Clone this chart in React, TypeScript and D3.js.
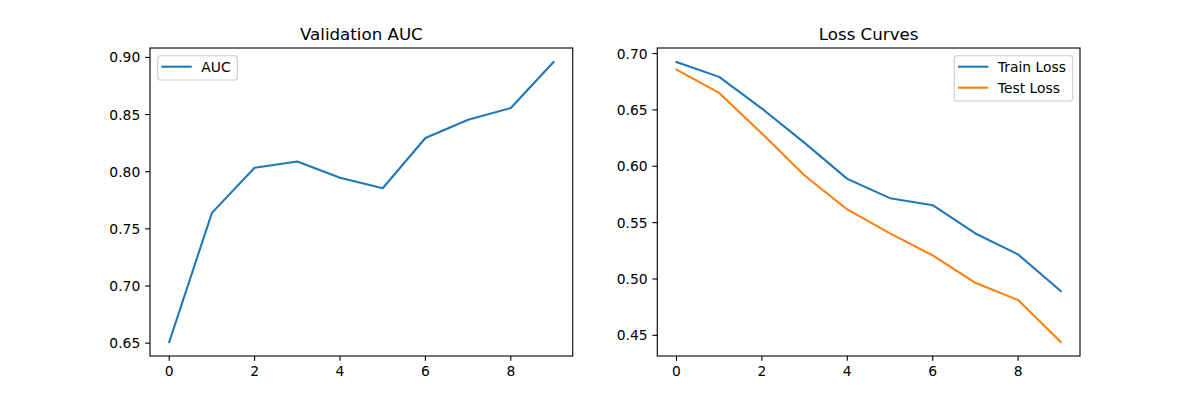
import React from "react";
import * as d3 from "d3";

const epochs = [0, 1, 2, 3, 4, 5, 6, 7, 8, 9];
const aucValues = [0.651, 0.764, 0.8035, 0.809, 0.7948, 0.7855, 0.8295, 0.8455, 0.8557, 0.896];
const trainLoss = [0.6925, 0.6793, 0.6512, 0.6207, 0.5888, 0.5717, 0.5655, 0.5404, 0.5218, 0.4893];
const testLoss = [0.6858, 0.6651, 0.6291, 0.5918, 0.5617, 0.5404, 0.5209, 0.4966, 0.4813, 0.4441];
const xTicks = [0, 2, 4, 6, 8];
const aucTicks = [0.65, 0.7, 0.75, 0.8, 0.85, 0.9];
const lossTicks = [0.45, 0.5, 0.55, 0.6, 0.65, 0.7];

const W = 1200;
const H = 400;
const FONT = "DejaVu Sans, sans-serif";
const TICK_FS = 13.89;
const TITLE_FS = 16.67;
const TICK_LEN = 4.86;
const TICK_PAD = 4.86;

type Series = { name: string; values: number[]; color: string };

function pad(min: number, max: number): [number, number] {
  const m = (max - min) * 0.05;
  return [min - m, max + m];
}

let ctx: CanvasRenderingContext2D | null = null;
function textWidth(s: string): number {
  if (!ctx) {
    const c = document.createElement("canvas");
    ctx = c.getContext("2d");
  }
  if (!ctx) return s.length * 7;
  ctx.font = `${TICK_FS}px "DejaVu Sans"`;
  return ctx.measureText(s).width;
}

function Panel({
  left,
  right,
  title,
  series,
  yTicks,
  legendPos,
}: {
  left: number;
  right: number;
  title: string;
  series: Series[];
  yTicks: number[];
  legendPos: "ul" | "ur";
}) {
  const top = 48;
  const bottom = 356;
  const all = series.flatMap((s) => s.values);
  const x = d3.scaleLinear().domain(pad(d3.min(epochs)!, d3.max(epochs)!)).range([left, right]);
  const y = d3.scaleLinear().domain(pad(d3.min(all)!, d3.max(all)!)).range([bottom, top]);
  const line = d3
    .line<number>()
    .x((_, i) => x(epochs[i]))
    .y((d) => y(d));

  const maxText = d3.max(series, (s) => textWidth(s.name))!;
  const legW = 43.6 + maxText + 6.7;
  const legH = 24.3 + 21 * (series.length - 1);
  const legX = legendPos === "ul" ? left + 7.7 : right - 7.3 - legW;
  const legY = top + 7.7;

  return (
    <g>
      <text
        x={(left + right) / 2}
        y={top - 8.3}
        textAnchor="middle"
        fontFamily={FONT}
        fontSize={TITLE_FS}
        fill="#000"
      >
        {title}
      </text>
      {series.map((s) => (
        <path
          key={s.name}
          d={line(s.values)!}
          fill="none"
          stroke={s.color}
          strokeWidth={2.08}
          strokeLinejoin="round"
          strokeLinecap="square"
        />
      ))}
      <rect
        x={left}
        y={top}
        width={right - left}
        height={bottom - top}
        fill="none"
        stroke="#000"
        strokeWidth={1.11}
      />
      {xTicks.map((t) => (
        <g key={"x" + t}>
          <line x1={x(t)} x2={x(t)} y1={bottom} y2={bottom + TICK_LEN} stroke="#000" strokeWidth={1.11} />
          <text
            x={x(t)}
            y={bottom + TICK_LEN + TICK_PAD + 10.7}
            textAnchor="middle"
            fontFamily={FONT}
            fontSize={TICK_FS}
            fill="#000"
          >
            {t}
          </text>
        </g>
      ))}
      {yTicks.map((t) => (
        <g key={"y" + t}>
          <line x1={left - TICK_LEN} x2={left} y1={y(t)} y2={y(t)} stroke="#000" strokeWidth={1.11} />
          <text
            x={left - TICK_LEN - TICK_PAD}
            y={y(t) + 5}
            textAnchor="end"
            fontFamily={FONT}
            fontSize={TICK_FS}
            fill="#000"
          >
            {t.toFixed(2)}
          </text>
        </g>
      ))}
      <rect
        x={legX}
        y={legY}
        width={legW}
        height={legH}
        rx={2.8}
        fill="#fff"
        fillOpacity={0.8}
        stroke="#cccccc"
        strokeWidth={1.11}
      />
      {series.map((s, i) => (
        <g key={"leg" + s.name}>
          <line
            x1={legX + 4.6}
            x2={legX + 33}
            y1={legY + 11 + i * 21}
            y2={legY + 11 + i * 21}
            stroke={s.color}
            strokeWidth={2.08}
            strokeLinecap="square"
          />
          <text
            x={legX + 43.6}
            y={legY + 11 + i * 21 + 5}
            fontFamily={FONT}
            fontSize={TICK_FS}
            fill="#000"
          >
            {s.name}
          </text>
        </g>
      ))}
    </g>
  );
}

export default function App() {
  const figL = 150;
  const figR = 1080;
  const w = (figR - figL) / 2.2;
  return (
    <svg
      width={W}
      height={H}
      viewBox={`0 0 ${W} ${H}`}
      style={{ position: "absolute", left: 0, top: 0, background: "#fff" }}
    >
      <rect x={0} y={0} width={W} height={H} fill="#fff" />
      <Panel
        left={figL}
        right={figL + w}
        title="Validation AUC"
        series={[{ name: "AUC", values: aucValues, color: "#1f77b4" }]}
        yTicks={aucTicks}
        legendPos="ul"
      />
      <Panel
        left={figR - w}
        right={figR}
        title="Loss Curves"
        series={[
          { name: "Train Loss", values: trainLoss, color: "#1f77b4" },
          { name: "Test Loss", values: testLoss, color: "#ff7f0e" },
        ]}
        yTicks={lossTicks}
        legendPos="ur"
      />
    </svg>
  );
}
